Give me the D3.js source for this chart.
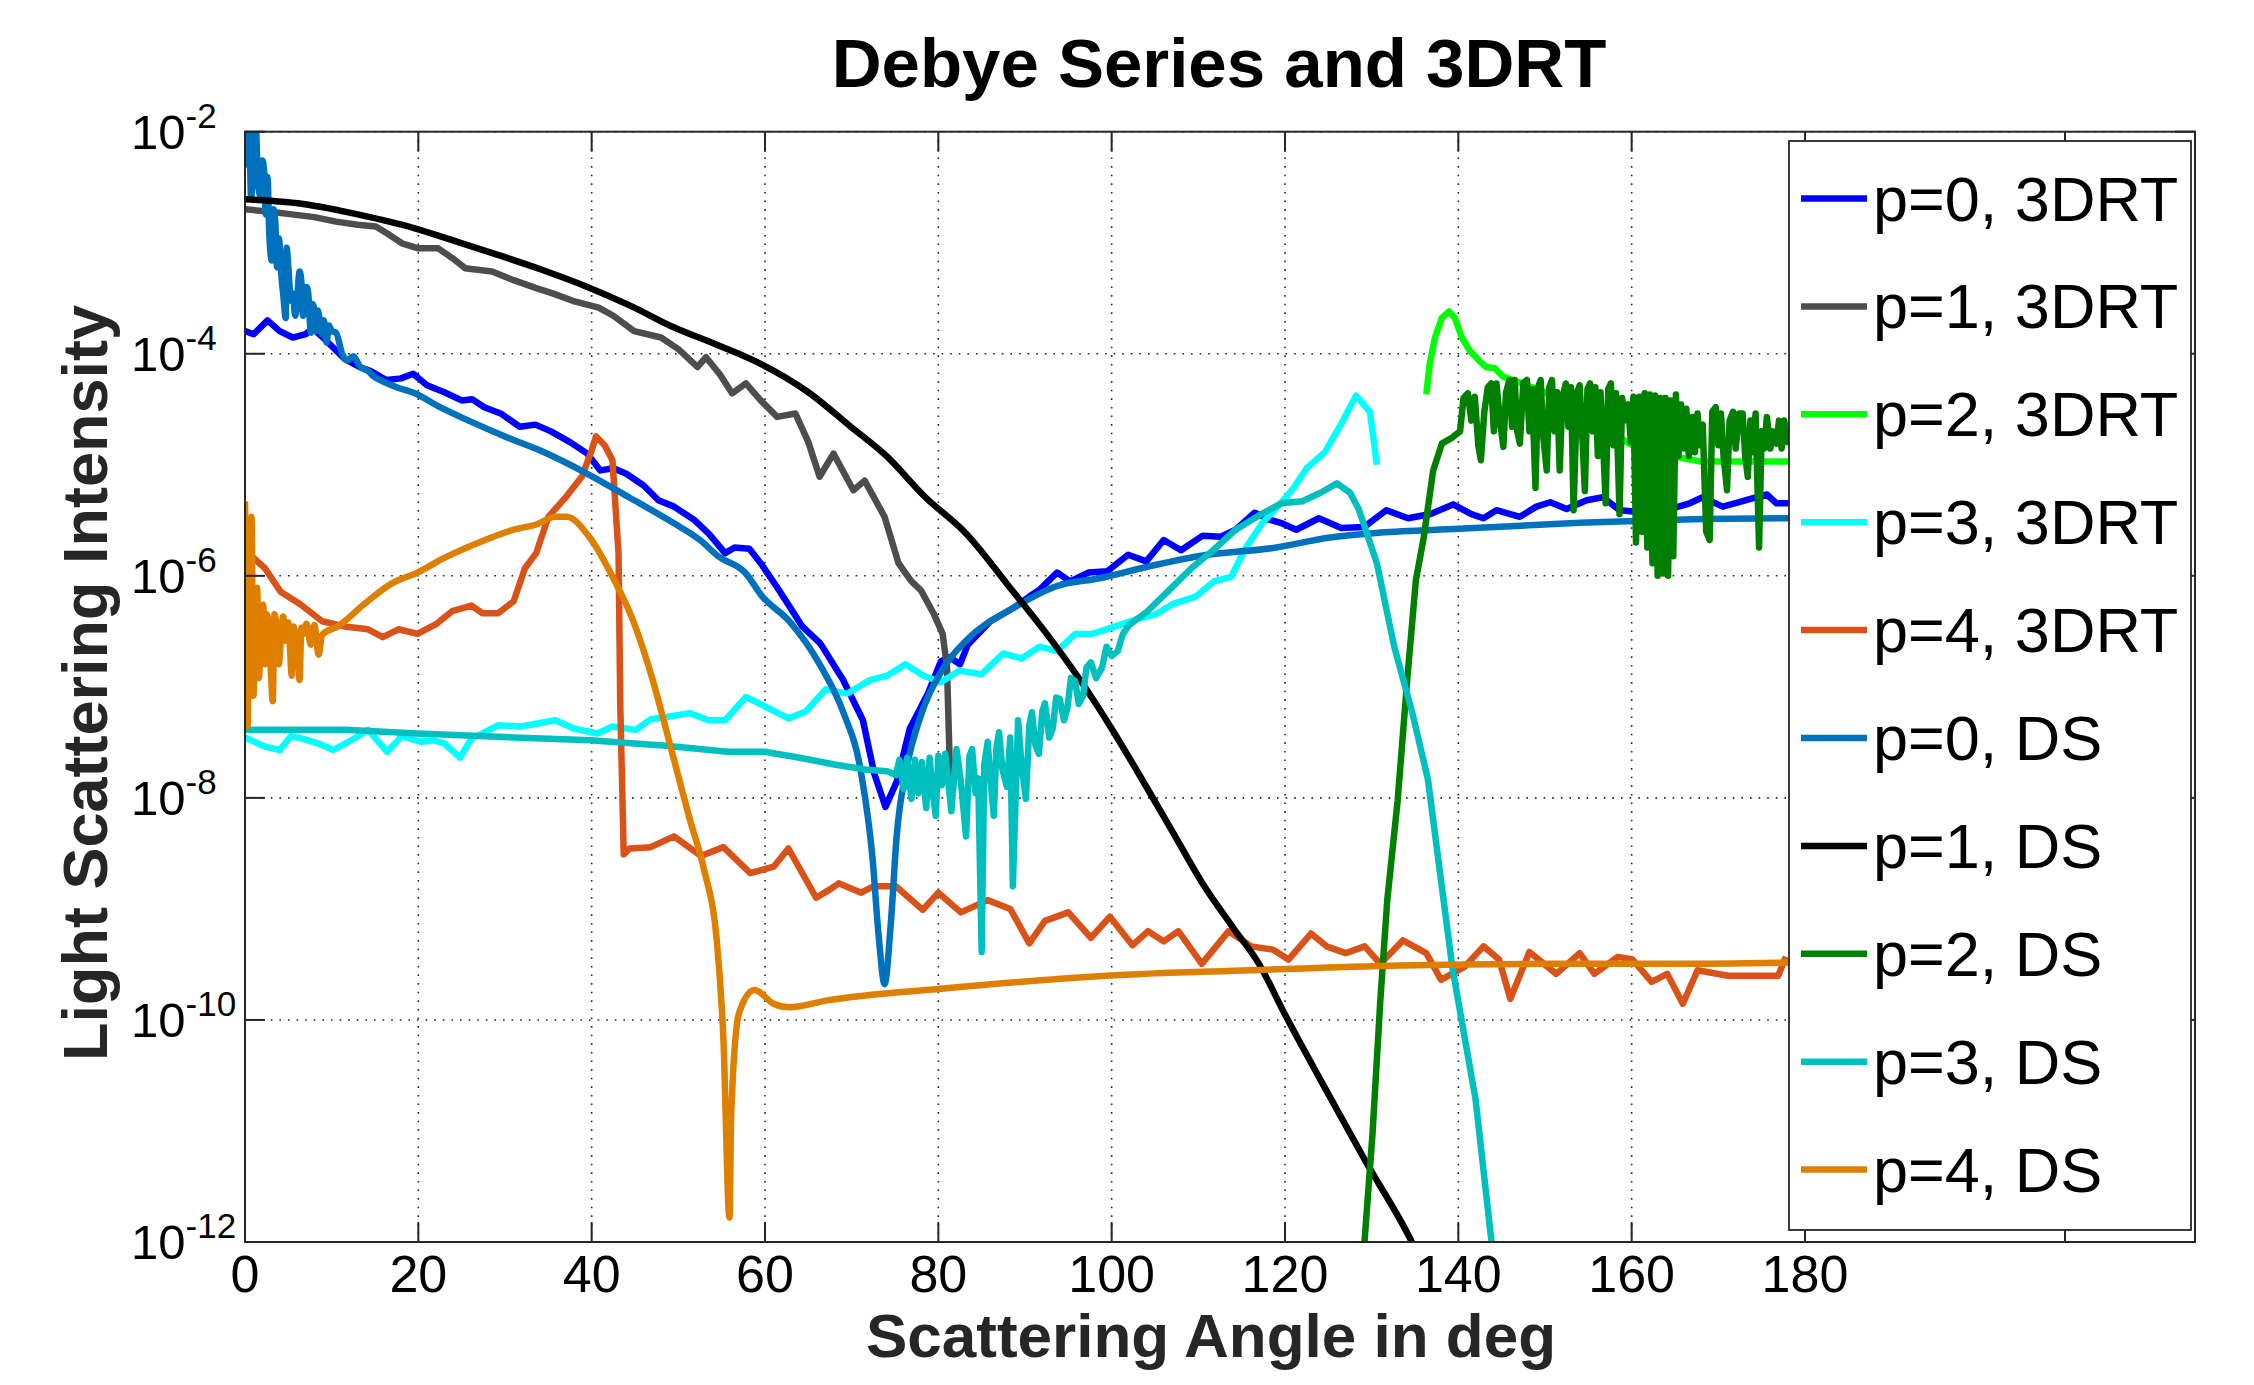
<!DOCTYPE html>
<html><head><meta charset="utf-8">
<script src="https://cdn.jsdelivr.net/npm/d3@7"></script>
<style>html,body{margin:0;padding:0;background:#fff;}svg{display:block;font-family:"Liberation Sans",Arial,Helvetica,sans-serif;}</style>
</head><body>
<svg id="chart" width="2254" height="1385"></svg>
<script>
// ---------- tick values / labels ----------
const xTicks = [0,20,40,60,80,100,120,140,160,180,210];
const xTickLabels = ["0","20","40","60","80","100","120","140","160","180",""];
const yTicks = [1e-12,1e-10,1e-8,1e-6,1e-4,1e-2];
const yTickExponents = ["-12","-10","-8","-6","-4","-2"];
const seriesNames = ["p=0, 3DRT","p=1, 3DRT","p=2, 3DRT","p=3, 3DRT","p=4, 3DRT","p=0, DS","p=1, DS","p=2, DS","p=3, DS","p=4, DS"];

// ---------- series values: [scattering angle (deg), intensity] ----------
const p0_3DRT = [[0,1.6e-4],[1.0,1.5e-4],[2.6,2.0e-4],[4.0,1.6e-4],[5.5,1.4e-4],[7.0,1.5e-4],[7.8,1.7e-4],[9.0,1.4e-4],[10.1,1.15e-4],[11.5,9.0e-5],[13.2,7.6e-5],[14.5,7.0e-5],[16.3,5.8e-5],[18.0,6.0e-5],[19.4,6.6e-5],[21.0,5.2e-5],[23.0,4.5e-5],[25.0,3.8e-5],[26.2,3.9e-5],[27.6,3.3e-5],[29.5,2.9e-5],[31.7,2.2e-5],[33.5,2.3e-5],[35.3,2.0e-5],[37.5,1.6e-5],[39.5,1.26e-5],[41.0,8.9e-6],[42.5,9.3e-6],[44.0,8.3e-6],[46.0,6.5e-6],[47.7,4.8e-6],[49.5,4.2e-6],[51.8,3.2e-6],[53.5,2.4e-6],[55.4,1.6e-6],[56.5,1.8e-6],[58.2,1.75e-6],[59.5,1.3e-6],[61.3,8.1e-7],[62.7,5.5e-7],[64.3,3.5e-7],[66.4,2.45e-7],[69.0,1.16e-7],[71.3,5.0e-8],[72.6,1.66e-8],[73.9,8.3e-9],[75.2,1.4e-8],[76.7,4.2e-8],[78.8,8.7e-8],[80.3,1.7e-7],[81.3,1.85e-7],[82.5,1.6e-7],[83.4,2.4e-7],[86.0,3.9e-7],[88.6,5.1e-7],[90.5,6.5e-7],[91.6,7.4e-7],[93.7,1.07e-6],[95.2,8.9e-7],[97.3,1.07e-6],[99.5,1.1e-6],[101.9,1.55e-6],[104.0,1.35e-6],[106.0,2.1e-6],[108.0,1.7e-6],[110.5,2.3e-6],[112.6,2.25e-6],[114.3,2.6e-6],[116.5,3.7e-6],[118.2,3.2e-6],[119.5,3.0e-6],[121.3,2.6e-6],[123.9,3.3e-6],[126.5,2.7e-6],[129.1,2.75e-6],[131.7,3.9e-6],[134.2,3.3e-6],[136.8,3.6e-6],[139.4,4.4e-6],[141.5,3.6e-6],[142.9,3.3e-6],[144.4,3.9e-6],[147.1,3.4e-6],[149.0,4.2e-6],[150.6,4.6e-6],[152.5,4.0e-6],[154.8,4.8e-6],[156.7,5.1e-6],[158.6,3.9e-6],[161.7,3.7e-6],[164.0,3.9e-6],[166.7,4.5e-6],[168.2,5.1e-6],[170.5,4.2e-6],[172.4,4.6e-6],[173.6,4.9e-6],[175.6,5.4e-6],[176.7,4.5e-6],[178.0,4.5e-6],[180.0,4.6e-6]];

const p1_3DRT = [[0,2.0e-3],[3,1.9e-3],[5.4,1.8e-3],[8,1.7e-3],[10.5,1.55e-3],[13,1.45e-3],[15.1,1.4e-3],[16.5,1.2e-3],[18.2,9.8e-4],[20,8.9e-4],[22.3,8.9e-4],[24,7.2e-4],[25.4,5.9e-4],[28.5,5.5e-4],[31,4.6e-4],[33.6,3.9e-4],[35.5,3.5e-4],[37.8,3.0e-4],[40.8,2.6e-4],[42.5,2.2e-4],[44.9,1.6e-4],[48,1.4e-4],[50,1.1e-4],[52.2,7.6e-5],[53.2,9.3e-5],[54.8,6.5e-5],[56.2,4.4e-5],[57.8,5.4e-5],[59.5,3.8e-5],[61.4,2.7e-5],[63.5,2.9e-5],[65,1.6e-5],[66.3,7.8e-6],[67.9,1.26e-5],[70.2,5.9e-6],[71.5,7.2e-6],[73.8,3.4e-6],[75.4,1.3e-6],[76.9,8.9e-7],[78,7.4e-7],[79.5,4.5e-7],[80.5,3.0e-7],[81.0,1.5e-7],[81.3,2.2e-8],[81.7,1.3e-8]];

const p2_3DRT = [[136.3,4.3e-5],[136.7,8.1e-5],[137.3,1.4e-4],[138.1,2.1e-4],[138.9,2.4e-4],[139.6,2.1e-4],[140.4,1.4e-4],[141.3,1.07e-4],[142.5,8.5e-5],[143.2,7.6e-5],[144.2,7.4e-5],[145.2,6.2e-5],[146.3,5.8e-5],[150,4.5e-5],[155,2.8e-5],[159.7,1.55e-5],[163,1.26e-5],[168,1.07e-5],[172,1.07e-5],[178,1.07e-5],[180,1.07e-5]];

const p3_3DRT = [[0,3.5e-8],[2.3,2.9e-8],[4.0,2.7e-8],[5.3,3.6e-8],[6.7,3.4e-8],[8.4,3.1e-8],[10.2,2.7e-8],[12.8,3.5e-8],[14.2,4.1e-8],[16.4,2.6e-8],[18.1,3.6e-8],[20.3,3.2e-8],[21.7,3.3e-8],[23,3.1e-8],[24.8,2.3e-8],[26.1,3.4e-8],[29.2,4.5e-8],[31.8,4.4e-8],[35.8,5.0e-8],[38.0,4.2e-8],[40.7,3.8e-8],[42.4,4.4e-8],[45.1,4.1e-8],[46.8,5.1e-8],[49.5,5.5e-8],[51.3,5.8e-8],[53.5,5.0e-8],[55.4,5.0e-8],[57.8,8.1e-8],[60.1,6.6e-8],[62.7,5.2e-8],[64.7,6.0e-8],[67.0,9.5e-8],[69.5,8.7e-8],[72.1,1.15e-7],[74.1,1.26e-7],[76.2,1.6e-7],[78.3,1.26e-7],[80.3,1.1e-7],[82.4,1.4e-7],[85.0,1.3e-7],[87.5,2.0e-7],[89.6,1.8e-7],[91.7,2.3e-7],[93.7,2.1e-7],[95.8,3.0e-7],[97.8,3.0e-7],[99.9,3.4e-7],[103,4.1e-7],[105.1,4.5e-7],[107.1,5.6e-7],[109.7,6.5e-7],[111.8,8.9e-7],[113.8,9.8e-7],[115.3,1.7e-6],[117.4,3.0e-6],[119.5,4.5e-6],[121,6.2e-6],[122.5,9.3e-6],[124.6,1.3e-5],[126.7,2.5e-5],[128.2,4.2e-5],[129.8,3.0e-5],[130.6,1.0e-5]];

const p4_3DRT = [[0,1.7e-6],[2.3,1.17e-6],[4.1,7.2e-7],[6.3,5.6e-7],[8.9,3.9e-7],[11.5,3.5e-7],[14.2,3.3e-7],[15.9,2.8e-7],[17.7,3.3e-7],[19.9,3.0e-7],[22.1,3.7e-7],[23.9,4.8e-7],[26.1,5.4e-7],[27.4,4.6e-7],[29.2,4.6e-7],[31,5.9e-7],[32.3,1.17e-6],[33.6,1.6e-6],[35,3.4e-6],[37.1,5.2e-6],[38.9,7.9e-6],[40,1.35e-5],[40.5,1.8e-5],[41.5,1.5e-5],[42.4,1.1e-5],[43.1,1.6e-6],[43.3,6.8e-8],[43.7,3.1e-9],[44.4,3.5e-9],[46.8,3.6e-9],[49.5,4.5e-9],[52.6,3.0e-9],[55.2,3.6e-9],[58.3,2.1e-9],[61,2.4e-9],[62.7,3.5e-9],[65.9,1.26e-9],[67.5,1.5e-9],[68.5,1.7e-9],[71.1,1.4e-9],[72.5,1.6e-9],[75.1,1.6e-9],[78.2,9.8e-10],[80.0,1.4e-9],[82.6,9.3e-10],[85.7,1.2e-9],[88.3,1.0e-9],[90.5,4.9e-10],[92.3,7.8e-10],[95.0,9.3e-10],[97.6,5.5e-10],[99.8,8.5e-10],[102.4,4.7e-10],[104.2,6.3e-10],[106,5.1e-10],[107.7,6.3e-10],[110.4,3.2e-10],[113.5,6.3e-10],[116.1,4.6e-10],[118.6,4.3e-10],[120.4,3.5e-10],[123,6.0e-10],[124.8,4.6e-10],[127,4.0e-10],[129.2,4.6e-10],[131,3.2e-10],[133.6,5.2e-10],[136.3,4.0e-10],[138.0,2.3e-10],[140.7,3.0e-10],[142.9,4.6e-10],[144.7,3.5e-10],[146,1.55e-10],[148.2,4.1e-10],[151.3,2.6e-10],[154,4.0e-10],[155.7,2.6e-10],[158.4,3.7e-10],[160.1,3.5e-10],[162.3,2.2e-10],[164.1,2.6e-10],[165.9,1.4e-10],[167.6,2.8e-10],[171.1,2.5e-10],[173.4,2.5e-10],[176.9,2.5e-10],[177.8,3.7e-10]];

const p0_DS = [[0.2,1.5e-2],[0.4,5.0e-3],[0.5,9.8e-3],[0.7,2.5e-3],[0.8,3.0e-3],[1.0,1.2e-2],[1.1,1.5e-2],[1.3,9.8e-3],[1.5,3.5e-3],[1.8,2.6e-3],[2.0,5.5e-3],[2.2,4.5e-3],[2.4,1.8e-3],[2.6,3.9e-3],[2.8,1.2e-3],[3.1,6.9e-4],[3.3,2.0e-3],[3.5,1.5e-3],[3.7,6.0e-4],[3.9,1.1e-3],[4.2,5.0e-4],[4.4,3.5e-4],[4.7,2.1e-4],[4.8,9.0e-4],[5.0,6.0e-4],[5.3,3.0e-4],[5.5,3.5e-4],[5.8,2.2e-4],[6.0,3.0e-4],[6.3,5.5e-4],[6.5,4.5e-4],[6.7,2.2e-4],[6.9,2.5e-4],[7.1,4.0e-4],[7.3,3.5e-4],[7.6,1.55e-4],[7.8,2.8e-4],[8.0,2.5e-4],[8.2,1.6e-4],[8.4,2.45e-4],[8.7,1.8e-4],[8.9,1.5e-4],[9.1,2.0e-4],[9.4,1.26e-4],[9.7,1.8e-4],[10,1.6e-4],[10.5,1.55e-4],[11.2,1.0e-4],[11.8,8.7e-5],[12.5,9.5e-5],[13.3,7.6e-5],[14.2,7.0e-5],[14.9,6.2e-5],[16,5.6e-5],[17.5,5.0e-5],[19.6,4.4e-5],[22.5,3.3e-5],[25.8,2.5e-5],[30,1.8e-5],[34.0,1.35e-5],[39.5,8.3e-6],[44.3,5.1e-6],[49.4,3.0e-6],[52.5,2.1e-6],[54.6,1.5e-6],[57.7,1.07e-6],[59.7,6.5e-7],[62.8,3.9e-7],[66.4,1.55e-7],[69.0,6.0e-8],[71.1,1.66e-8],[72.4,2.9e-9],[73.1,5.9e-10],[73.8,2.1e-10],[74.5,7.1e-10],[75.2,4.6e-9],[76.3,1.8e-8],[77.8,5.0e-8],[80.4,1.4e-7],[83.4,2.7e-7],[88.6,5.1e-7],[93.7,8.1e-7],[98.6,9.5e-7],[104,1.2e-6],[110,1.5e-6],[119,1.8e-6],[125,2.2e-6],[131,2.45e-6],[140,2.65e-6],[154,3.0e-6],[165,3.2e-6],[178,3.3e-6],[180,3.3e-6]];

const p1_DS = [[0,2.46e-3],[7.3,2.2e-3],[13,1.8e-3],[19.6,1.35e-3],[24,1.05e-3],[28.9,7.9e-4],[34,5.8e-4],[39.5,4.0e-4],[44.5,2.7e-4],[49.4,1.74e-4],[54.5,1.2e-4],[59.5,8.1e-5],[65,4.5e-5],[69.9,2.2e-5],[74,1.2e-5],[78.5,5.1e-6],[83,2.5e-6],[88.7,7.1e-7],[92.5,3.0e-7],[96.3,1.17e-7],[100,4.2e-8],[104,1.26e-8],[107,5.0e-9],[110.4,1.74e-9],[114,6.8e-10],[117,3.2e-10],[120,1.12e-10],[124.3,2.7e-11],[129.2,5.5e-12],[134.5,1.05e-12],[136,6e-13]];

const p2_DS = [[128.9,5e-13],[129.2,1.07e-12],[130.1,9.5e-12],[131.0,1.5e-10],[131.8,1.2e-9],[133.0,9.5e-9],[134.1,1.15e-7],[134.8,4.9e-7],[135.1,9.1e-7],[136.0,2.2e-6],[137.1,8.9e-6],[138.1,1.55e-5],[139.2,1.74e-5],[140.2,2.0e-5],[140.6,4.0e-5],[141.1,4.4e-5],[141.5,2.5e-5],[141.9,4.1e-5],[142.3,1.5e-5],[142.6,1.1e-5],[143.0,3.0e-5],[143.4,5.0e-5],[143.8,5.4e-5],[144.1,2.0e-5],[144.4,5.4e-5],[144.8,2.5e-5],[145.2,1.45e-5],[145.5,4.5e-5],[145.9,5.8e-5],[146.2,2.2e-5],[146.5,5.8e-5],[146.8,2.0e-5],[147.1,1.55e-5],[147.5,5.5e-5],[147.9,5.8e-5],[148.2,2.0e-5],[148.5,4.8e-5],[148.9,6.2e-6],[149.2,5.0e-5],[149.5,5.8e-5],[149.8,1.8e-5],[150.2,8.9e-6],[150.5,5.0e-5],[150.8,5.8e-5],[151.1,2.0e-5],[151.4,4.5e-5],[151.7,8.9e-6],[152.0,4.0e-5],[152.4,5.4e-5],[152.7,2.2e-5],[153.0,5.0e-5],[153.3,3.9e-6],[153.7,4.5e-5],[154.0,5.2e-5],[154.3,1.8e-5],[154.6,5.8e-6],[154.9,4.8e-5],[155.2,5.4e-5],[155.5,2.0e-5],[155.8,5.0e-5],[156.1,1.2e-5],[156.4,4.5e-5],[156.7,1.6e-5],[157.0,4.5e-6],[157.3,4.8e-5],[157.6,5.4e-5],[157.9,1.5e-5],[158.2,4.4e-5],[158.6,3.6e-6],[158.9,4.0e-5],[159.2,2.5e-5],[159.6,3.5e-5],[159.9,1.6e-5],[160.2,4.1e-5],[160.5,2.0e-6],[160.9,4.1e-5],[161.2,2.5e-6],[161.5,4.4e-5],[161.8,1.8e-6],[162.1,4.3e-5],[162.4,1.3e-6],[162.7,4.2e-5],[163.0,1.0e-6],[163.3,4.0e-5],[163.6,1.05e-6],[163.9,4.0e-5],[164.2,1.0e-6],[164.5,3.8e-5],[164.8,1.5e-6],[165.1,4.3e-5],[165.4,1.2e-5],[165.7,3.5e-5],[166.0,1.4e-5],[166.3,3.2e-5],[166.6,1.2e-5],[167.0,2.7e-5],[167.3,1.3e-5],[167.6,2.9e-5],[167.9,1.5e-5],[168.2,2.3e-5],[168.6,2.5e-6],[169.0,2.1e-6],[169.3,3.0e-5],[169.7,3.3e-5],[170.0,1.5e-5],[170.3,2.9e-5],[170.6,1.2e-5],[171.0,5.9e-6],[171.3,2.5e-5],[171.7,3.0e-5],[172.0,1.4e-5],[172.4,2.9e-5],[172.8,2.9e-5],[173.1,1.2e-5],[173.4,7.8e-6],[173.7,2.5e-5],[174.0,1.3e-5],[174.3,2.9e-5],[174.7,1.8e-6],[175.0,2.0e-5],[175.3,1.4e-5],[175.6,2.7e-5],[176.0,1.4e-5],[176.3,2.0e-5],[176.7,1.55e-5],[177.0,2.5e-5],[177.3,1.4e-5],[177.6,2.5e-5],[178.0,1.6e-5],[178.5,1.8e-5],[180,2.2e-5]];

const p3_DS = [[0,4.1e-8],[11.6,4.1e-8],[19.9,3.8e-8],[29.2,3.55e-8],[39.8,3.3e-8],[48.6,2.95e-8],[55.7,2.6e-8],[60,2.6e-8],[64,2.3e-8],[68,2.0e-8],[71.6,1.8e-8],[74.1,1.74e-8],[75.1,1.6e-8],[75.5,2.2e-8],[76,1.2e-8],[76.4,2.3e-8],[76.9,9.8e-9],[77.3,2.2e-8],[77.7,1.1e-8],[78.1,2.1e-8],[78.6,8.1e-9],[79.0,2.3e-8],[79.3,1.2e-8],[79.7,6.9e-9],[80.0,2.4e-8],[80.4,1.3e-8],[80.8,2.5e-8],[81.5,7.6e-9],[82.1,2.75e-8],[82.6,1.4e-8],[83.2,4.5e-9],[83.6,2.4e-8],[83.9,2.75e-8],[84.3,1.1e-8],[84.6,1.5e-8],[85.0,4.1e-10],[85.3,2.0e-8],[85.7,3.2e-8],[86.0,1.5e-8],[86.4,6.9e-9],[86.7,2.8e-8],[87.0,3.9e-8],[87.4,1.8e-8],[87.9,1.26e-8],[88.3,3.5e-8],[88.6,1.6e-9],[89.2,5.0e-8],[89.6,2.0e-8],[90.1,9.8e-9],[90.5,4.5e-8],[90.8,5.9e-8],[91.2,3.0e-8],[91.6,2.5e-8],[92.0,6.0e-8],[92.3,7.1e-8],[92.8,3.5e-8],[93.2,4.2e-8],[93.6,8.0e-8],[94.0,7.8e-8],[94.5,5.0e-8],[94.9,6.5e-8],[95.3,1.2e-7],[95.8,1.12e-7],[96.2,7.0e-8],[96.7,8.3e-8],[97.1,1.5e-7],[97.6,1.66e-7],[98.2,1.2e-7],[98.9,1.5e-7],[99.4,2.3e-7],[100.0,1.9e-7],[100.7,2.1e-7],[101.3,3.0e-7],[102,3.6e-7],[104.0,4.7e-7],[106.6,7.4e-7],[109.2,1.17e-6],[111.7,1.7e-6],[114.3,2.6e-6],[117.0,3.5e-6],[119.6,4.5e-6],[122.0,4.7e-6],[124.1,5.6e-6],[126.0,6.8e-6],[127.5,5.6e-6],[128.5,4.0e-6],[130.6,1.3e-6],[132.6,2.3e-7],[134.7,5.8e-8],[136.5,1.45e-8],[139.3,3.0e-10],[142.0,1.9e-11],[143.8,1.05e-12],[144.2,6e-13]];

const p4_DS = [[0,4.7e-6],[0.15,6.0e-7],[0.3,4.4e-8],[0.5,1.5e-6],[0.75,3.4e-6],[0.97,8.3e-8],[1.2,5.0e-7],[1.4,7.8e-7],[1.6,1.2e-7],[1.85,3.3e-7],[2.1,5.5e-7],[2.3,1.6e-7],[2.5,4.5e-7],[2.7,3.7e-7],[3.0,1.3e-7],[3.2,7.4e-8],[3.4,4.5e-7],[3.6,3.7e-7],[3.9,1.6e-7],[4.1,2.4e-7],[4.4,4.3e-7],[4.7,2.6e-7],[5.0,3.8e-7],[5.4,1.26e-7],[5.6,3.5e-7],[5.8,3.0e-7],[6.1,2.0e-7],[6.3,1.15e-7],[6.5,3.4e-7],[6.7,3.0e-7],[7.1,3.7e-7],[7.6,2.4e-7],[8.0,3.6e-7],[8.5,1.95e-7],[8.9,2.95e-7],[10.7,3.5e-7],[13.8,5.6e-7],[16.9,8.5e-7],[19.9,1.07e-6],[23,1.45e-6],[27,2.0e-6],[31,2.6e-6],[33.6,2.9e-6],[35.8,3.4e-6],[37.1,3.4e-6],[39.8,2.2e-6],[42.5,9.5e-7],[44.7,4.1e-7],[46.9,1.26e-7],[49.1,2.9e-8],[51.3,6.5e-9],[53.0,2.2e-9],[54.4,5.6e-10],[55.2,6.8e-11],[55.9,1.66e-12],[56.1,1.4e-11],[57.0,1.15e-10],[58.8,1.86e-10],[61.0,1.4e-10],[62.8,1.3e-10],[67.2,1.5e-10],[80,1.9e-10],[99.4,2.5e-10],[116,2.8e-10],[133.3,3.1e-10],[150,3.2e-10],[165,3.2e-10],[180,3.3e-10]];

const seriesValues = [p0_3DRT,p1_3DRT,p2_3DRT,p3_3DRT,p4_3DRT,p0_DS,p1_DS,p2_DS,p3_DS,p4_DS];

// ---------- styles ----------
const seriesColors = ["#0000FF","#4D4D4D","#00FF00","#00FFFF","#D95319","#0072BD","#000000","#007F00","#00BFBF","#DF7F00"];
const smoothSeries = [false,false,false,false,false,true,true,false,false,true];

// ---------- layout ----------
const W = 2254, H = 1385;
const plot = {left:245, right:2195, top:131.7, bottom:1242};
const axisColor = "#262626";
const lineW = 6.5;
const svg = d3.select("#chart");
svg.append("rect").attr("width",W).attr("height",H).attr("fill","#fff");

const x = d3.scaleLinear().domain([0,225]).range([plot.left, plot.right]);
const y = d3.scaleLog().domain([1e-12,1e-2]).range([plot.bottom, plot.top]);

// grid
const grid = svg.append("g");
grid.selectAll("line.gx").data(xTicks).join("line")
  .attr("x1",d=>x(d)).attr("x2",d=>x(d)).attr("y1",plot.top).attr("y2",plot.bottom)
  .attr("stroke",axisColor).attr("stroke-width",1.6).attr("stroke-dasharray","1.6,7");
grid.selectAll("line.gy").data(yTicks).join("line")
  .attr("x1",plot.left).attr("x2",plot.right).attr("y1",d=>y(d)).attr("y2",d=>y(d))
  .attr("stroke",axisColor).attr("stroke-width",1.6).attr("stroke-dasharray","1.6,7");

// clip
svg.append("clipPath").attr("id","plotclip").append("rect")
  .attr("x",plot.left).attr("y",plot.top).attr("width",plot.right-plot.left).attr("height",plot.bottom-plot.top);

const linesG = svg.append("g").attr("clip-path","url(#plotclip)");
seriesValues.forEach((data,i)=>{
  const gen = d3.line().x(d=>x(d[0])).y(d=>y(d[1]))
    .curve(smoothSeries[i] ? d3.curveMonotoneX : d3.curveLinear);
  linesG.append("path").attr("d",gen(data)).attr("fill","none")
    .attr("stroke",seriesColors[i]).attr("stroke-width",lineW)
    .attr("stroke-linejoin","round").attr("stroke-linecap","butt");
});

// axes box
svg.append("rect").attr("x",plot.left).attr("y",plot.top)
  .attr("width",plot.right-plot.left).attr("height",plot.bottom-plot.top)
  .attr("fill","none").attr("stroke",axisColor).attr("stroke-width",2);

// ticks (inward, mirrored)
const tl = 20;
const ticksG = svg.append("g").attr("stroke",axisColor).attr("stroke-width",2);
xTicks.forEach(t=>{
  ticksG.append("line").attr("x1",x(t)).attr("x2",x(t)).attr("y1",plot.bottom).attr("y2",plot.bottom-tl);
  ticksG.append("line").attr("x1",x(t)).attr("x2",x(t)).attr("y1",plot.top).attr("y2",plot.top+tl);
});
yTicks.forEach(t=>{
  ticksG.append("line").attr("x1",plot.left).attr("x2",plot.left+tl).attr("y1",y(t)).attr("y2",y(t));
  ticksG.append("line").attr("x1",plot.right).attr("x2",plot.right-tl).attr("y1",y(t)).attr("y2",y(t));
});

// x tick labels
svg.append("g").selectAll("text").data(xTicks).join("text")
  .attr("x",d=>x(d)).attr("y",1292).attr("text-anchor","middle")
  .attr("font-size",52).attr("fill","#000")
  .text((d,i)=>xTickLabels[i]);

// y tick labels 10^n
yTicks.forEach((t,i)=>{
  const tx = svg.append("text").attr("x",131).attr("y",y(t)+17)
    .attr("font-size",49).attr("fill","#000");
  tx.append("tspan").text("10");
  tx.append("tspan").attr("font-size",35).attr("dy",-21).text(yTickExponents[i]);
});

// title & axis labels
svg.append("text").attr("x",1219).attr("y",87).attr("text-anchor","middle")
  .attr("font-size",69).attr("font-weight","bold").attr("fill","#000")
  .text("Debye Series and 3DRT");
svg.append("text").attr("x",1211).attr("y",1357).attr("text-anchor","middle")
  .attr("font-size",62).attr("font-weight","bold").attr("fill","#262626")
  .text("Scattering Angle in deg");
svg.append("text").attr("transform","translate(107,683) rotate(-90)").attr("text-anchor","middle")
  .attr("font-size",63).attr("font-weight","bold").attr("fill","#262626")
  .text("Light Scattering Intensity");

// legend
const leg = svg.append("g");
leg.append("rect").attr("x",1789).attr("y",141).attr("width",402).attr("height",1089)
  .attr("fill","#fff").attr("stroke",axisColor).attr("stroke-width",1.8);
seriesNames.forEach((name,i)=>{
  const ly = 198.5 + i*107.9;
  leg.append("line").attr("x1",1801).attr("x2",1867).attr("y1",ly).attr("y2",ly)
    .attr("stroke",seriesColors[i]).attr("stroke-width",lineW);
  leg.append("text").attr("x",1873).attr("y",ly+22).attr("font-size",63).attr("fill","#000").text(name);
});
</script>
</body></html>
